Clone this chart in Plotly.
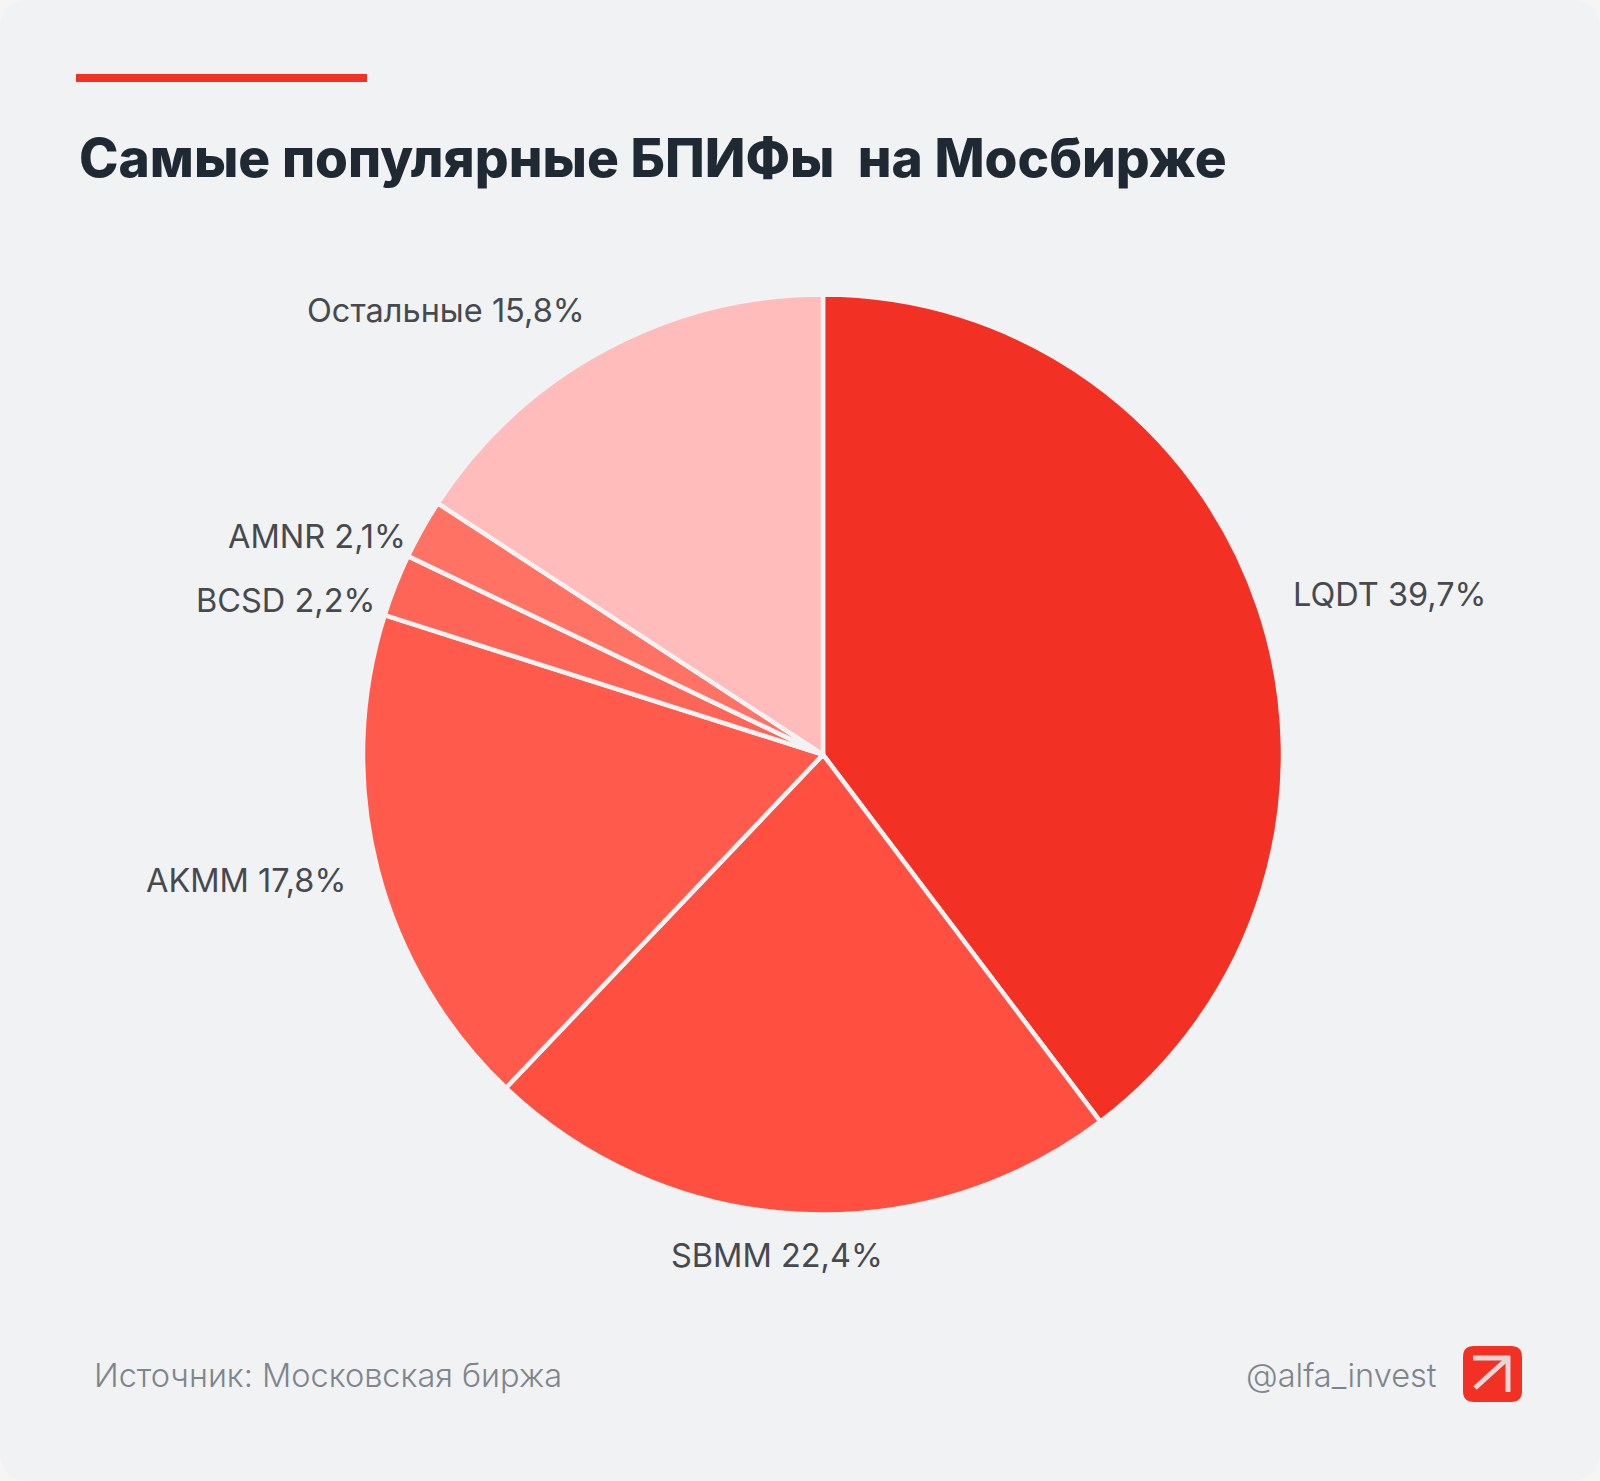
import plotly.graph_objects as go

W = 1600
H = 1481

tickers = ["LQDT", "SBMM", "AKMM", "BCSD", "AMNR", "Остальные"]
shares = [39.7, 22.4, 17.8, 2.2, 2.1, 15.8]
share_labels = ["39,7%", "22,4%", "17,8%", "2,2%", "2,1%", "15,8%"]
colors = ["#f23124", "#ff4f41", "#ff5a4c", "#ff6557", "#ff7264", "#ffbcbb"]

title = "Самые популярные БПИФы  на Мосбирже"
source = "Источник: Московская биржа"
handle = "@alfa_invest"

# pie position in pixels of the picture
cx, cy, r = 823, 754.6, 460

# where the slice labels sit: x, y, anchor
label_pos = [
	(1290.5, 594, "left"),
	(777, 1255, "center"),
	(348, 880, "right"),
	(377, 600, "right"),
	(407.5, 537, "right"),
	(586.5, 310, "right"),
]


def px(x):
	return x / W


def py(y):
	return 1 - y / H


def rounded(x0, y0, x1, y1, rad):
	x0, x1 = px(x0), px(x1)
	y0, y1 = py(y0), py(y1)
	rx, ry = rad / W, rad / H
	return (f"M {x0 + rx} {y0} L {x1 - rx} {y0} Q {x1} {y0} {x1} {y0 - ry} "
		f"L {x1} {y1 + ry} Q {x1} {y1} {x1 - rx} {y1} "
		f"L {x0 + rx} {y1} Q {x0} {y1} {x0} {y1 + ry} "
		f"L {x0} {y0 - ry} Q {x0} {y0} {x0 + rx} {y0} Z")


fig = go.Figure()

fig.add_trace(go.Pie(
	labels=tickers,
	values=shares,
	textinfo="none",
	marker=dict(colors=colors, line=dict(color="#f1f2f4", width=4.5)),
	sort=False,
	direction="clockwise",
	rotation=0,
	showlegend=False,
	automargin=False,
	domain=dict(x=[px(cx - r), px(cx + r)], y=[py(cy + r), py(cy - r)]),
))

shapes = [
	# card
	dict(type="path", path=rounded(0, 0, W, H, 30), fillcolor="#f1f2f4", line=dict(width=0), layer="below"),
	# red bar over the title
	dict(type="rect", x0=px(76), x1=px(367), y0=py(74), y1=py(82), fillcolor="#f23124", line=dict(width=0)),
	# logo
	dict(type="path", path=rounded(1463, 1346, 1522, 1402, 11), fillcolor="#f23124", line=dict(width=0)),
	dict(type="line", x0=px(1475), y0=py(1388), x1=px(1507), y1=py(1359), line=dict(color="#e8d5d5", width=5)),
	dict(type="line", x0=px(1473), y0=py(1358), x1=px(1510), y1=py(1358), line=dict(color="#e8d5d5", width=5)),
	dict(type="line", x0=px(1508), y0=py(1356), x1=px(1508), y1=py(1392), line=dict(color="#e8d5d5", width=5)),
]

annotations = [
	dict(text=title, x=px(77), y=py(157), xanchor="left", yanchor="middle",
		font=dict(family="Inter", size=53.2, weight=800, color="#1f2933")),
	dict(text=source, x=px(92), y=py(1375), xanchor="left", yanchor="middle",
		font=dict(family="Inter", size=32.5, weight=300, color="#7f858c")),
	dict(text=handle, x=px(1439), y=py(1375), xanchor="right", yanchor="middle",
		font=dict(family="Inter", size=32.6, weight=300, color="#7f858c")),
]
for t, s, (lx, ly, anchor) in zip(tickers, share_labels, label_pos):
	annotations.append(dict(text=t + " " + s, x=px(lx), y=py(ly), xanchor=anchor, yanchor="middle",
		font=dict(family="Inter", size=32.5, color="#46494d")))
for a in annotations:
	a.update(xref="paper", yref="paper", showarrow=False)

fig.update_layout(
	width=W,
	height=H,
	margin=dict(l=0, r=0, t=0, b=0),
	paper_bgcolor="#f5f5f5",
	plot_bgcolor="#f1f2f4",
	shapes=shapes,
	annotations=annotations,
)

fig.write_html("out.html", post_script="document.body.style.margin='0';", config=dict(displayModeBar=False))
